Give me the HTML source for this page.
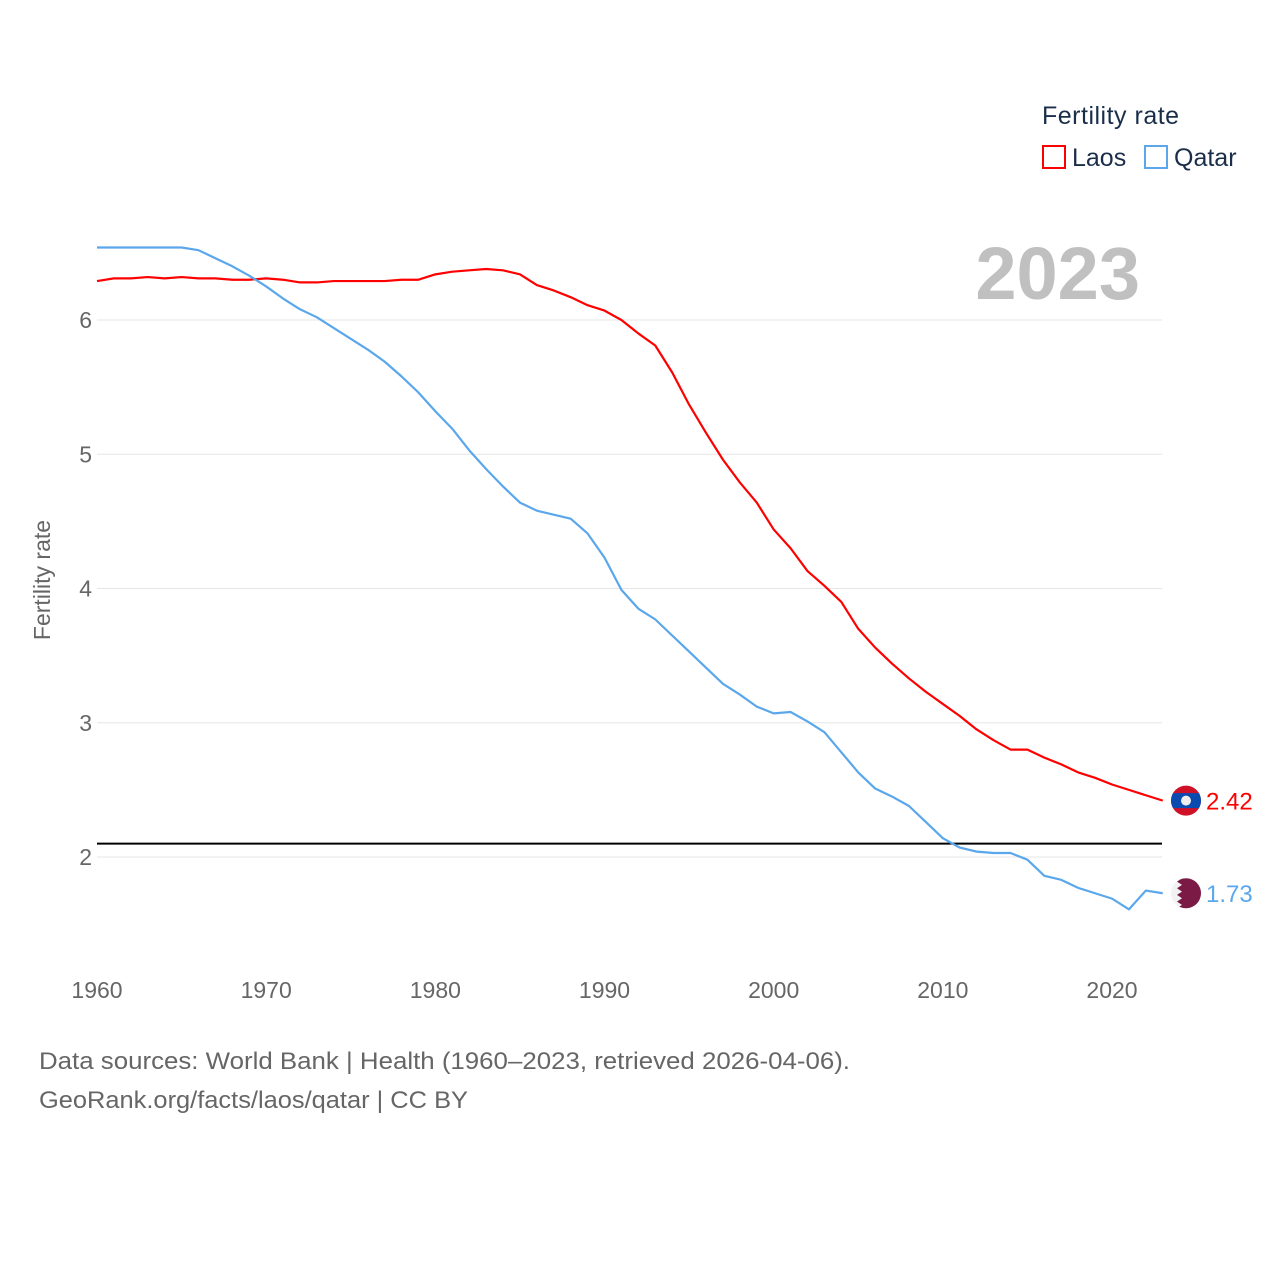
<!DOCTYPE html>
<html><head><meta charset="utf-8"><style>
body{margin:0;background:#fff;font-family:"Liberation Sans",sans-serif;}
</style></head><body>
<svg width="1280" height="1280" xmlns="http://www.w3.org/2000/svg" id="chart" style="display:block">
<text x="1042" y="124" font-size="25" fill="#1a2e4a" letter-spacing="0.5">Fertility rate</text>
<rect x="1043" y="146" width="22" height="22" fill="none" stroke="#ff0000" stroke-width="2"/>
<text x="1072" y="166" font-size="25" fill="#1a2e4a">Laos</text>
<rect x="1145" y="146" width="22" height="22" fill="none" stroke="#5aa7ec" stroke-width="2"/>
<text x="1174" y="166" font-size="25" fill="#1a2e4a">Qatar</text>
<text x="1140" y="299" font-size="74" font-weight="bold" fill="#c0c0c0" text-anchor="end">2023</text>
<text transform="translate(50,580) rotate(-90)" font-size="23" fill="#666" text-anchor="middle">Fertility rate</text>
<g id="grid"></g><g id="series"></g>
<text x="39" y="1069" font-size="24" fill="#666" textLength="811" lengthAdjust="spacingAndGlyphs">Data sources: World Bank | Health (1960–2023, retrieved 2026-04-06).</text>
<text x="39" y="1108" font-size="24" fill="#666" textLength="429" lengthAdjust="spacingAndGlyphs">GeoRank.org/facts/laos/qatar | CC BY</text>
</svg>
<script>
const years=[];for(let y=1960;y<=2023;y++)years.push(y);
const laos=[6.29,6.31,6.31,6.32,6.31,6.32,6.31,6.31,6.30,6.30,6.31,6.30,6.28,6.28,6.29,6.29,6.29,6.29,6.30,6.30,6.34,6.36,6.37,6.38,6.37,6.34,6.26,6.22,6.17,6.11,6.07,6.00,5.90,5.81,5.61,5.37,5.16,4.96,4.79,4.64,4.44,4.30,4.13,4.02,3.90,3.70,3.56,3.44,3.33,3.23,3.14,3.05,2.95,2.87,2.80,2.80,2.74,2.69,2.63,2.59,2.54,2.50,2.46,2.42];
const qatar=[6.54,6.54,6.54,6.54,6.54,6.54,6.52,6.46,6.40,6.33,6.25,6.16,6.08,6.02,5.94,5.86,5.78,5.69,5.58,5.46,5.32,5.19,5.03,4.89,4.76,4.64,4.58,4.55,4.52,4.41,4.23,3.99,3.85,3.77,3.65,3.53,3.41,3.29,3.21,3.12,3.07,3.08,3.01,2.93,2.78,2.63,2.51,2.45,2.38,2.26,2.14,2.07,2.04,2.03,2.03,1.98,1.86,1.83,1.77,1.73,1.69,1.61,1.75,1.73];
const yTicks=[2,3,4,5,6];
const xTicks=[1960,1970,1980,1990,2000,2010,2020];
const refValue=2.1;
const NS="http://www.w3.org/2000/svg";
const X=y=>97+(y-1960)*1015/60;
const Y=v=>320+(6-v)*134.25;
function mk(t,a,p){const e=document.createElementNS(NS,t);for(const k in a)e.setAttribute(k,a[k]);p.appendChild(e);return e;}
const g=document.getElementById('grid'),s=document.getElementById('series');
yTicks.forEach(v=>{
 const l=mk('line',{x1:97,x2:1162,y1:Y(v),y2:Y(v),stroke:'#e6e6e6','stroke-width':1},g);
 
 
 const t=mk('text',{x:92,y:Y(v)+8,'font-size':23,fill:'#666','text-anchor':'end'},g);t.textContent=v;
 
 
});
xTicks.forEach(v=>{
 const t=mk('text',{x:X(v),y:998,'font-size':23,fill:'#666','text-anchor':'middle'},g);t.textContent=v;
 
 
});
const ref=mk('line',{x1:97,x2:1162,y1:Y(refValue),y2:Y(refValue),stroke:'#000','stroke-width':2},g);


function series(data,color,name){
 const p=mk('polyline',{points:data.map((v,i)=>X(years[i])+','+Y(v)).join(' '),fill:'none',stroke:color,'stroke-width':2.2,'stroke-linejoin':'round'},s);
 
 
 const last=data[data.length-1],ly=Y(last);
 const l=mk('text',{x:1206,y:ly+9,'font-size':24,fill:color},s);l.textContent=last.toFixed(2);
 
 
 return ly;
}
const ly=series(laos,'#ff0000','laos');
const qy=series(qatar,'#5aa7ec','qatar');
const defs=mk('defs',{},s);
const lc=mk('clipPath',{id:'lc'},defs);mk('circle',{cx:1186,cy:ly,r:15},lc);
const qc=mk('clipPath',{id:'qc'},defs);mk('circle',{cx:1186,cy:qy,r:15},qc);
// Laos flag
const lf=mk('g',{'clip-path':'url(#lc)'},s);


mk('rect',{x:1170,y:ly-16,width:32,height:32,fill:'#ce1126'},lf);
mk('rect',{x:1170,y:ly-7.5,width:32,height:15,fill:'#0a4bb0'},lf);
mk('circle',{cx:1186,cy:ly,r:5,fill:'#eee'},lf);
// Qatar flag
const qf=mk('g',{'clip-path':'url(#qc)'},s);


mk('rect',{x:1170,y:qy-16,width:32,height:32,fill:'#f2f2f2'},qf);
let pts='1202,'+(qy-16)+' ';const z=9;
for(let i=0;i<=z;i++){const yy=qy-15+i*30/z;pts+=(i%2?1177:1182)+','+yy+' ';}
pts+='1202,'+(qy+16);
mk('polygon',{points:pts,fill:'#7a1a45'},qf);
</script>
</body></html>
